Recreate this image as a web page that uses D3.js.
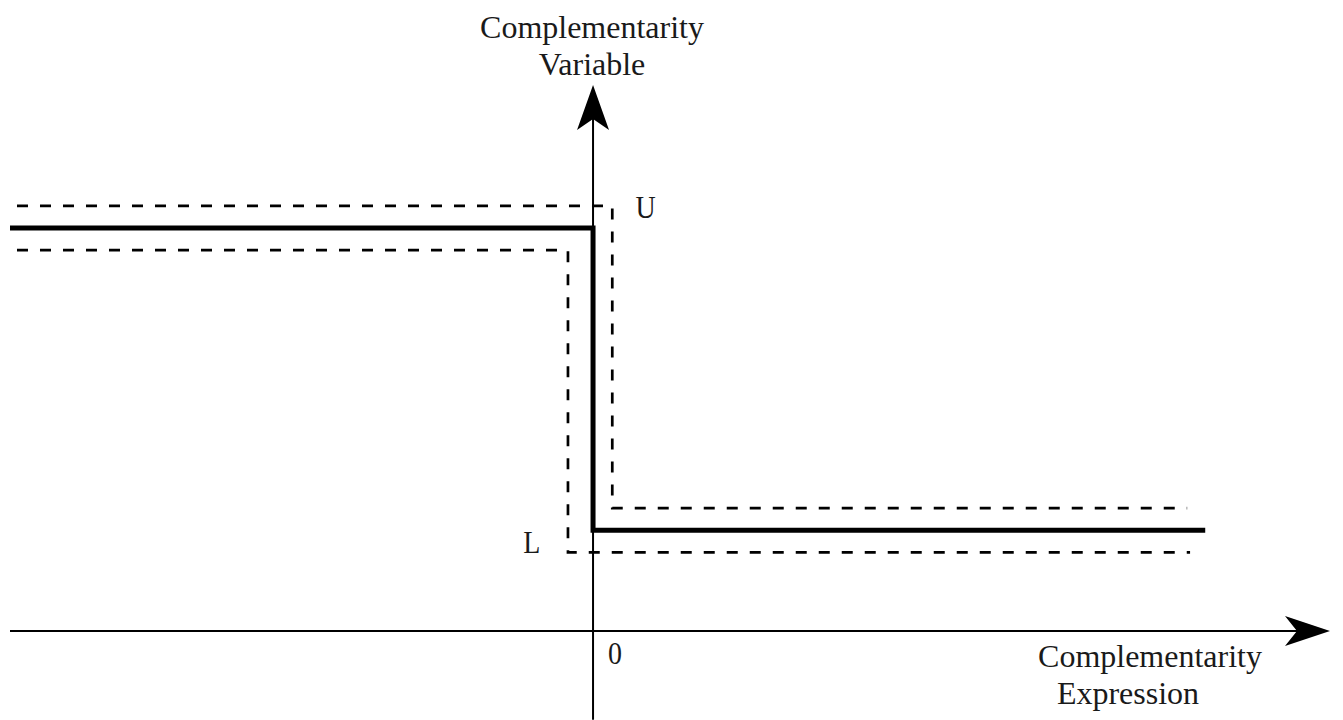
<!DOCTYPE html>
<html><head><meta charset="utf-8">
<script src="https://cdn.jsdelivr.net/npm/d3@7"></script>
<style>html,body{margin:0;padding:0;background:#fff;}svg{display:block;}</style>
</head><body>
<svg id="chart" width="1343" height="720"></svg>
<script>
// Data (abstract units: x = complementarity expression, y = complementarity variable)
const solidPath = [[-10, 4], [0, 4], [0, 1], [10.5, 1]];
const upperBound = [[-9.88, 4.22], [0.33, 4.22], [0.33, 1.22], [10.19, 1.22]];
const lowerBound = [[-9.88, 3.78], [-0.43, 3.78], [-0.43, 0.78], [10.24, 0.78]];
const xAxisExtent = [-10, 12.64];
const yAxisExtent = [-0.88, 5.42];
const boundLabels = [{t: "U", x: 0.9, y: 4.1}, {t: "L", x: -1.05, y: 0.77}];
const originLabel = "0";
const yTitle = ["Complementarity", "Variable"];
const xTitle = ["Complementarity", "Expression"];

const svg = d3.select("#chart");
const x = d3.scaleLinear().domain(xAxisExtent).range([10, 1330]);
const y = d3.scaleLinear().domain([0, 4]).range([631, 228]);
const line = d3.line().x(d => x(d[0])).y(d => y(d[1]));
const font = "'Liberation Serif','Times New Roman',serif";

// axes
svg.append("line").attr("x1", x(xAxisExtent[0])).attr("x2", x(xAxisExtent[1]) - 30)
  .attr("y1", y(0)).attr("y2", y(0)).attr("stroke", "#000").attr("stroke-width", 2);
svg.append("line").attr("x1", x(0)).attr("x2", x(0))
  .attr("y1", y(yAxisExtent[0])).attr("y2", y(yAxisExtent[1]) + 30)
  .attr("stroke", "#000").attr("stroke-width", 2);

// arrowheads
const xt = x(xAxisExtent[1]), y0 = y(0);
svg.append("path").attr("d", `M${xt},${y0} L${xt-45},${y0-15} L${xt-33},${y0} L${xt-45},${y0+15} Z`).attr("fill", "#000");
const yt = y(yAxisExtent[1]), x0 = x(0);
svg.append("path").attr("d", `M${x0},${yt} L${x0+16},${yt+45} L${x0},${yt+34} L${x0-16},${yt+45} Z`).attr("fill", "#000");

// bounds
[upperBound, lowerBound].forEach(b => {
  svg.append("path").attr("d", line(b)).attr("fill", "none")
    .attr("stroke", "#000").attr("stroke-width", 2.7).attr("stroke-dasharray", "11,12");
});
// solid
svg.append("path").attr("d", line(solidPath)).attr("fill", "none")
  .attr("stroke", "#000").attr("stroke-width", 5);

function addText(t, px, py, size, sy) {
  svg.append("text").attr("transform", `translate(${px},${py}) scale(1,${sy})`)
    .attr("text-anchor", "middle")
    .attr("font-family", font).attr("font-size", size).attr("fill", "#1a1a1a").text(t);
}
// labels
boundLabels.forEach(l => addText(l.t, x(l.x), y(l.y), 28, 1.12));
addText(originLabel, x(0) + 22, 664, 28, 1.12);
yTitle.forEach((t, i) => addText(t, 592, 38 + i * 37, 32, 1));
xTitle.forEach((t, i) => addText(t, i === 0 ? 1150 : 1128, 667 + i * 37, 32, 1));
</script>
</body></html>
